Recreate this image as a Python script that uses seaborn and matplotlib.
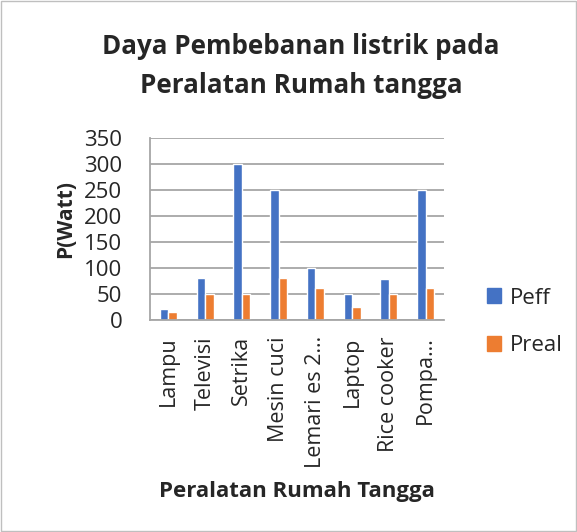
import pandas as pd
import matplotlib.pyplot as plt
import seaborn as sns
from matplotlib.patches import Rectangle

alat = ['Lampu', 'Televisi', 'Setrika', 'Mesin cuci', 'Lemari es 2…', 'Laptop', 'Rice cooker', 'Pompa…']
peff = [20, 80, 300, 250, 100, 50, 77, 250]
preal = [15, 50, 50, 80, 60, 25, 50, 60]

df = pd.DataFrame({'Alat': alat * 2,
                   'Daya': peff + preal,
                   'Seri': ['Peff'] * len(alat) + ['Preal'] * len(alat)})

sns.set_style('white')
plt.rcParams['font.family'] = ['Open Sans', 'DejaVu Sans']
grey = '#A6A6A6'

fig = plt.figure(figsize=(5.77, 5.32), dpi=100)
ax = fig.add_axes([0.26, 0.3994, 0.5095, 0.3421])
sns.barplot(data=df, x='Alat', y='Daya', hue='Seri', palette=['#4472C4', '#ED7D31'],
            width=0.46, gap=0, saturation=1, ax=ax, legend=False)

ax.set_ylim(0, 350)
ax.set_yticks(range(0, 351, 50))
ax.set_xlim(-0.5, len(alat) - 0.5)
ax.yaxis.grid(True, color=grey, linewidth=1.3)
ax.set_axisbelow(True)
for s in ['top', 'right']:
    ax.spines[s].set_visible(False)
for s in ['left', 'bottom']:
    ax.spines[s].set_color(grey)
    ax.spines[s].set_linewidth(1.3)
ax.tick_params(axis='y', labelsize=16, length=6, width=1.3, color=grey, pad=14)
ax.tick_params(axis='x', labelsize=15.5, length=0, pad=12, rotation=90)
ax.set_xlabel('Peralatan Rumah Tangga', fontsize=16, fontweight='bold')
ax.set_ylabel('P(Watt)', fontsize=15, fontweight='bold')
ax.xaxis.set_label_coords(0.5, -0.89)
ax.yaxis.set_label_coords(-0.25, 0.55)

fig.text(0.522, 0.876, 'Daya Pembebanan listrik pada\nPeralatan Rumah tangga',
         ha='center', va='center', fontsize=18.7, fontweight='bold', linespacing=1.55)

handles = [Rectangle((0, 0), 1, 1, color='#4472C4'), Rectangle((0, 0), 1, 1, color='#ED7D31')]
fig.legend(handles, ['Peff', 'Preal'], loc='center left', bbox_to_anchor=(0.844, 0.395),
           frameon=False, fontsize=16, handlelength=0.65, handleheight=0.65,
           handletextpad=0.4, labelspacing=1.2, borderpad=0, borderaxespad=0)

fig.patches.append(Rectangle((0.002, 0.002), 0.996, 0.996, transform=fig.transFigure,
                             fill=False, edgecolor='#BFBFBF', linewidth=1))
fig.savefig('out.png', dpi=100)
